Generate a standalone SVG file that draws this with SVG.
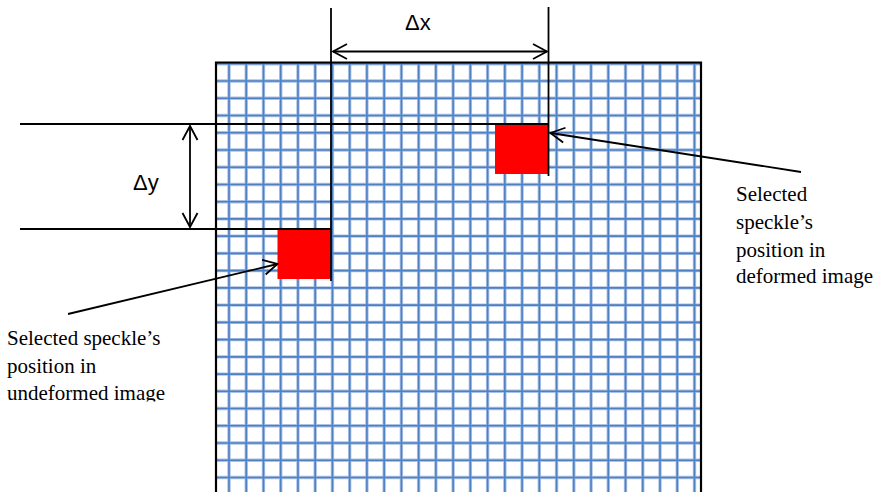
<svg xmlns="http://www.w3.org/2000/svg" width="878" height="492" viewBox="0 0 878 492">
<style>
.gw{stroke:#a9c2e6;stroke-width:3.4;fill:none}
.gc{stroke:#4f80c4;stroke-width:1.6;fill:none}
.k{stroke:#000;stroke-width:1.8;fill:none}
.lbl{font-family:"Liberation Serif","Times New Roman",serif;font-size:21px;fill:#000}
.dl{font-family:"Liberation Sans",Arial,sans-serif;font-size:22px;fill:#000}
</style>
<defs>
<marker id="ah" viewBox="-15 -9 17 18" markerWidth="17" markerHeight="18" refX="0" refY="0" orient="auto-start-reverse" markerUnits="userSpaceOnUse">
<path d="M-14,-7.5 L0,0 L-14,7.5" fill="none" stroke="#000" stroke-width="1.8"/>
</marker>
<clipPath id="clipL"><rect x="0" y="300" width="215" height="101.5"/></clipPath>
</defs>
<g id="grid">
<path class="gw" d="M229,62V492M246.24,62V492M263.48,62V492M280.72,62V492M297.96,62V492M315.2,62V492M332.44,62V492M349.68,62V492M366.92,62V492M384.16,62V492M401.4,62V492M418.64,62V492M435.88,62V492M453.12,62V492M470.36,62V492M487.6,62V492M504.84,62V492M522.08,62V492M539.32,62V492M556.56,62V492M573.8,62V492M591.04,62V492M608.28,62V492M625.52,62V492M642.76,62V492M660,62V492M677.24,62V492M694.48,62V492 M216,63.8H701M216,81H701M216,98.24H701M216,115.48H701M216,132.72H701M216,149.96H701M216,167.2H701M216,184.44H701M216,201.68H701M216,218.92H701M216,236.16H701M216,253.4H701M216,270.64H701M216,287.88H701M216,305.12H701M216,322.36H701M216,339.6H701M216,356.84H701M216,374.08H701M216,391.32H701M216,408.56H701M216,425.8H701M216,443.04H701M216,460.28H701M216,477.52H701"/>
<path class="gc" d="M229,62V492M246.24,62V492M263.48,62V492M280.72,62V492M297.96,62V492M315.2,62V492M332.44,62V492M349.68,62V492M366.92,62V492M384.16,62V492M401.4,62V492M418.64,62V492M435.88,62V492M453.12,62V492M470.36,62V492M487.6,62V492M504.84,62V492M522.08,62V492M539.32,62V492M556.56,62V492M573.8,62V492M591.04,62V492M608.28,62V492M625.52,62V492M642.76,62V492M660,62V492M677.24,62V492M694.48,62V492 M216,63.8H701M216,81H701M216,98.24H701M216,115.48H701M216,132.72H701M216,149.96H701M216,167.2H701M216,184.44H701M216,201.68H701M216,218.92H701M216,236.16H701M216,253.4H701M216,270.64H701M216,287.88H701M216,305.12H701M216,322.36H701M216,339.6H701M216,356.84H701M216,374.08H701M216,391.32H701M216,408.56H701M216,425.8H701M216,443.04H701M216,460.28H701M216,477.52H701"/>
<path d="M216,493V62.5H701V493" fill="none" stroke="#000" stroke-width="2.2"/>
</g>
<g id="speckle-deformed"><rect x="495" y="124" width="53.5" height="50" fill="#ff0000"/></g>
<g id="speckle-undeformed"><rect x="277.5" y="229" width="53.5" height="50" fill="#ff0000"/></g>
<g id="connectors">
<path class="k" d="M331,8V281"/>
<path class="k" d="M548.5,7V176"/>
<path class="k" d="M20,124H548.5"/>
<path class="k" d="M20,229H331"/>
<path class="k" d="M333,51.5H547" marker-start="url(#ah)" marker-end="url(#ah)"/>
<path class="k" d="M190,126V227" marker-start="url(#ah)" marker-end="url(#ah)"/>
<path class="k" d="M801,172L550.5,133" marker-end="url(#ah)"/>
<path class="k" d="M68,314L277.5,264" marker-end="url(#ah)"/>
</g>
<g id="dx-label"><text class="dl" x="405" y="30">Δx</text></g>
<g id="dy-label"><text class="dl" x="133" y="190">Δy</text></g>
<g id="label-deformed">
<text class="lbl" x="736" y="201">Selected</text>
<text class="lbl" x="736" y="228.5">speckle’s</text>
<text class="lbl" x="736" y="256.5">position in</text>
<text class="lbl" x="736" y="283">deformed image</text>
</g>
<g id="label-undeformed" clip-path="url(#clipL)">
<text class="lbl" x="7" y="345">Selected speckle’s</text>
<text class="lbl" x="7" y="373">position in</text>
<text class="lbl" x="7" y="400">undeformed image</text>
</g>
</svg>
